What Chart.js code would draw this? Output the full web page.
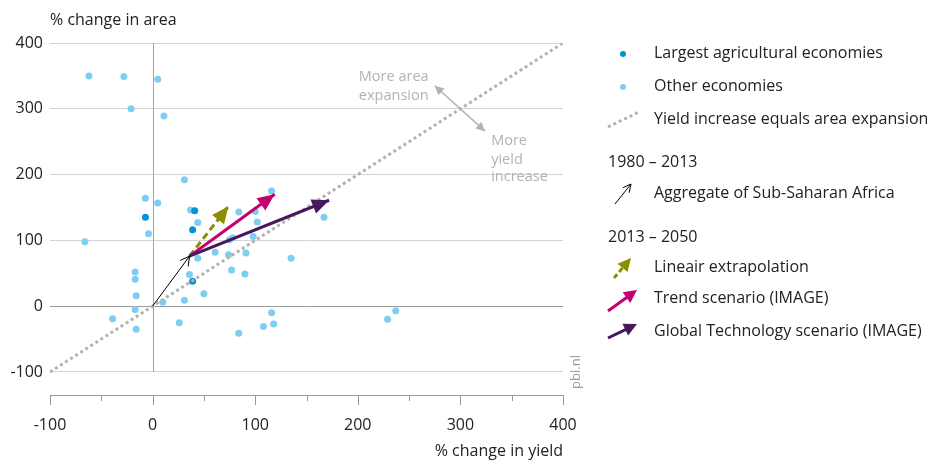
<!DOCTYPE html>
<html>
<head>
<meta charset="utf-8">
<script src="https://cdn.jsdelivr.net/npm/chart.js@4.4.1/dist/chart.umd.min.js"></script>
<style>
  html, body { margin: 0; padding: 0; background: #fff; }
</style>
</head>
<body>
<canvas id="chart" width="931" height="463"></canvas>
<script>
// % change in yield (x) and % change in area (y), 1980-2013
const largestX = [41, 39, -7, 39];
const largestY = [145, 116, 135, 38];

const otherX = [-62, -28, 5, -21, 11, 31, -7, 5, 37, 44, -4, -66, 84, 100, 102, 116, 167, 98, 75, 78,
                44, 61, 74, 91, 77, 90, 135, 36, 50, 31, 10, -17, -17, -16, -17, -39, -16, 26, 84, 108,
                116, 118, 229, 237];
const otherY = [350, 349, 345, 300, 289, 192, 164, 157, 146, 127, 110, 98, 143, 144, 128, 175, 135, 106, 101, 104,
                73, 82, 78, 81, 55, 49, 73, 48, 19, 9, 6, 52, 41, 16, -5, -19, -35, -25, -41, -31,
                -10, -27, -20, -7];

// Yield increase equals area expansion
const parityX = [-100, 400];
const parityY = [-100, 400];

// Aggregate of Sub-Saharan Africa, 1980-2013
const aggregateX = [0, 36];
const aggregateY = [0, 76];
// 2013-2050
const lineairX = [36, 74];
const lineairY = [76, 152];
const trendX = [36, 119];
const trendY = [76, 170];
const globalTechX = [36, 172];
const globalTechY = [76, 161];

// Axis ticks
const xTicks = [-100, 0, 100, 200, 300, 400];
const xMinorTicks = [-50, 50, 150, 250, 350];
const yTicks = [-100, 0, 100, 200, 300, 400];

const FONT = '"Open Sans", "Noto Sans", sans-serif';
const DARK_BLUE = '#0094d8';
const LIGHT_BLUE = '#80cdf3';
const OLIVE = '#8d8d00';
const MAGENTA = '#c6006e';
const PURPLE = '#46195e';
const GREY = '#b3b3b3';

const pts = (xs, ys) => xs.map((v, i) => ({ x: v, y: ys[i] }));

function arrowHead(ctx, x1, y1, x2, y2, len, half, color, open) {
  const a = Math.atan2(y2 - y1, x2 - x1);
  const bx = x2 - len * Math.cos(a), by = y2 - len * Math.sin(a);
  const px = -Math.sin(a) * half, py = Math.cos(a) * half;
  ctx.beginPath();
  ctx.moveTo(bx + px, by + py);
  ctx.lineTo(x2, y2);
  ctx.lineTo(bx - px, by - py);
  if (open) {
    ctx.strokeStyle = color; ctx.lineWidth = 1; ctx.stroke();
  } else {
    ctx.closePath(); ctx.fillStyle = color; ctx.fill();
  }
}

function legendArrow(ctx, x1, y1, x2, y2, color, width, dash, len, half, open) {
  ctx.save();
  ctx.strokeStyle = color; ctx.lineWidth = width; ctx.setLineDash(dash);
  const a = Math.atan2(y2 - y1, x2 - x1);
  const ex = open ? x2 : x2 - (len - 2) * Math.cos(a), ey = open ? y2 : y2 - (len - 2) * Math.sin(a);
  ctx.beginPath(); ctx.moveTo(x1, y1); ctx.lineTo(ex, ey); ctx.stroke();
  ctx.setLineDash([]);
  arrowHead(ctx, x1, y1, x2, y2, len, half, color, open);
  ctx.restore();
}

const decorations = {
  id: 'decorations',
  beforeDatasetsDraw(chart) {
    const { ctx, scales: { x, y } } = chart;
    ctx.save();
    // vertical zero line
    const x0 = Math.round(x.getPixelForValue(0)) + 0.5;
    ctx.strokeStyle = '#a3a3a3'; ctx.lineWidth = 1;
    ctx.beginPath();
    ctx.moveTo(x0, y.getPixelForValue(400));
    ctx.lineTo(x0, y.getPixelForValue(-100));
    ctx.stroke();
    // x-axis tick marks
    const yb = chart.chartArea.bottom;
    ctx.strokeStyle = '#9a9a9a';
    xTicks.forEach(v => {
      const px = Math.round(x.getPixelForValue(v)) + 0.5;
      ctx.beginPath(); ctx.moveTo(px, yb); ctx.lineTo(px, yb + 10); ctx.stroke();
    });
    xMinorTicks.forEach(v => {
      const px = Math.round(x.getPixelForValue(v)) + 0.5;
      ctx.beginPath(); ctx.moveTo(px, yb); ctx.lineTo(px, yb + 6); ctx.stroke();
    });
    ctx.restore();
  },
  afterDatasetsDraw(chart) {
    const { ctx, scales: { x, y } } = chart;
    ctx.save();
    // arrow heads on the data arrows
    const P = (xs, ys, i) => [x.getPixelForValue(xs[i]), y.getPixelForValue(ys[i])];
    const head = (xs, ys, len, half, color, open) => {
      const [x1, y1] = P(xs, ys, 0), [x2, y2] = P(xs, ys, 1);
      arrowHead(ctx, x1, y1, x2, y2, len, half, color, open);
    };
    head(aggregateX, aggregateY, 9, 5, '#000', true);
    head(globalTechX, globalTechY, 17, 7.5, PURPLE, false);
    head(trendX, trendY, 17, 7.5, MAGENTA, false);
    head(lineairX, lineairY, 17, 7.5, OLIVE, false);

    // annotation: double-headed arrow
    const ax1 = x.getPixelForValue(275), ay1 = y.getPixelForValue(335);
    const ax2 = x.getPixelForValue(324), ay2 = y.getPixelForValue(266);
    ctx.strokeStyle = GREY; ctx.lineWidth = 1.5;
    ctx.beginPath(); ctx.moveTo(ax1, ay1); ctx.lineTo(ax2, ay2); ctx.stroke();
    arrowHead(ctx, ax2, ay2, ax1, ay1, 9, 4.5, GREY, false);
    arrowHead(ctx, ax1, ay1, ax2, ay2, 9, 4.5, GREY, false);

    ctx.fillStyle = GREY;
    ctx.font = '14.5px ' + FONT;
    ctx.textBaseline = 'middle';
    ctx.textAlign = 'right';
    ctx.fillText('More area', x.getPixelForValue(269), y.getPixelForValue(348));
    ctx.fillText('expansion', x.getPixelForValue(269), y.getPixelForValue(320));
    ctx.textAlign = 'left';
    ctx.fillText('More', x.getPixelForValue(330), y.getPixelForValue(251));
    ctx.fillText('yield', x.getPixelForValue(330), y.getPixelForValue(223));
    ctx.fillText('increase', x.getPixelForValue(330), y.getPixelForValue(196));

    // source
    ctx.save();
    ctx.translate(chart.chartArea.right + 13, y.getPixelForValue(-100));
    ctx.rotate(-Math.PI / 2);
    ctx.fillStyle = '#9a9a9a';
    ctx.font = '13px ' + FONT;
    ctx.textAlign = 'center';
    ctx.fillText('pbl.nl', 0, 0);
    ctx.restore();
    ctx.restore();
  },
  afterDraw(chart) {
    const { ctx, chartArea } = chart;
    ctx.save();
    ctx.fillStyle = '#222';
    ctx.font = '16px ' + FONT;
    ctx.textBaseline = 'middle';
    // axis titles
    ctx.textAlign = 'left';
    ctx.fillText('% change in area', chartArea.left, 20);
    ctx.textAlign = 'right';
    ctx.fillText('% change in yield', chartArea.right, 451);

    // legend
    ctx.textAlign = 'left';
    const tx = 654;
    ctx.fillStyle = DARK_BLUE;
    ctx.beginPath(); ctx.arc(623, 54, 3, 0, Math.PI * 2); ctx.fill();
    ctx.fillStyle = LIGHT_BLUE;
    ctx.beginPath(); ctx.arc(623, 87, 3, 0, Math.PI * 2); ctx.fill();
    ctx.strokeStyle = GREY; ctx.lineWidth = 3; ctx.setLineDash([3, 3]);
    ctx.beginPath(); ctx.moveTo(608, 127); ctx.lineTo(639, 112); ctx.stroke();
    ctx.setLineDash([]);

    ctx.fillStyle = '#222';
    ctx.fillText('Largest agricultural economies', tx, 53);
    ctx.fillText('Other economies', tx, 86);
    ctx.fillText('Yield increase equals area expansion', tx, 119);
    ctx.fillText('1980 \u2013 2013', 608, 162);
    ctx.fillText('Aggregate of Sub-Saharan Africa', tx, 193);
    ctx.fillText('2013 \u2013 2050', 608, 237);
    ctx.fillText('Lineair extrapolation', tx, 267);
    ctx.fillText('Trend scenario (IMAGE)', tx, 298);
    ctx.fillText('Global Technology scenario (IMAGE)', tx, 331);

    legendArrow(ctx, 615, 204, 631, 184, '#000', 1, [], 8, 4, true);
    legendArrow(ctx, 614, 278, 631, 258, OLIVE, 3, [5, 3], 13, 6.5, false);
    legendArrow(ctx, 608, 311, 637, 290, MAGENTA, 3, [], 13, 6.5, false);
    legendArrow(ctx, 608, 338, 637, 324, PURPLE, 3, [], 13, 6.5, false);
    ctx.restore();
  }
};

const ctx = document.getElementById('chart').getContext('2d');
const chart = new Chart(ctx, {
  type: 'scatter',
  data: {
    datasets: [
      { label: 'Global Technology scenario (IMAGE)', data: pts(globalTechX, globalTechY), showLine: true,
        borderColor: PURPLE, borderWidth: 3, pointRadius: 0, order: 1 },
      { label: 'Trend scenario (IMAGE)', data: pts(trendX, trendY), showLine: true,
        borderColor: MAGENTA, borderWidth: 3, pointRadius: 0, order: 2 },
      { label: 'Lineair extrapolation', data: pts(lineairX, lineairY), showLine: true,
        borderColor: OLIVE, borderWidth: 3, borderDash: [7, 4], pointRadius: 0, order: 3 },
      { label: 'Aggregate of Sub-Saharan Africa', data: pts(aggregateX, aggregateY), showLine: true,
        borderColor: '#000', borderWidth: 1, pointRadius: 0, order: 4 },
      { label: 'Yield increase equals area expansion', data: pts(parityX, parityY), showLine: true,
        borderColor: GREY, borderWidth: 3, borderDash: [3, 3], pointRadius: 0, order: 5 },
      { label: 'Largest agricultural economies', data: pts(largestX, largestY),
        backgroundColor: DARK_BLUE, pointRadius: 3.5, pointBorderWidth: 0, order: 6 },
      { label: 'Other economies', data: pts(otherX, otherY),
        backgroundColor: LIGHT_BLUE, pointRadius: 3.5, pointBorderWidth: 0, order: 7 }
    ]
  },
  options: {
    responsive: false,
    animation: false,
    layout: { padding: { left: 0, right: 368, top: 43, bottom: 0 } },
    plugins: { legend: { display: false }, tooltip: { enabled: false } },
    scales: {
      x: {
        min: -100, max: 400,
        afterBuildTicks: s => { s.ticks = xTicks.map(v => ({ value: v })); },
        afterFit: s => { s.height = 68; },
        grid: { display: false, drawTicks: false },
        border: { display: true, color: '#9a9a9a', width: 1 },
        ticks: { color: '#222', font: { family: FONT, size: 16 }, padding: 21, maxRotation: 0 }
      },
      y: {
        min: -135, max: 400,
        afterBuildTicks: s => { s.ticks = yTicks.map(v => ({ value: v })); },
        afterFit: s => { s.width = 50; },
        grid: {
          color: c => (c.tick && c.tick.value === 0 ? '#9a9a9a' : '#d4d4d4'),
          drawTicks: false
        },
        border: { display: false },
        ticks: { color: '#222', font: { family: FONT, size: 16 }, padding: 7 }
      }
    }
  },
  plugins: [decorations]
});
</script>
</body>
</html>
